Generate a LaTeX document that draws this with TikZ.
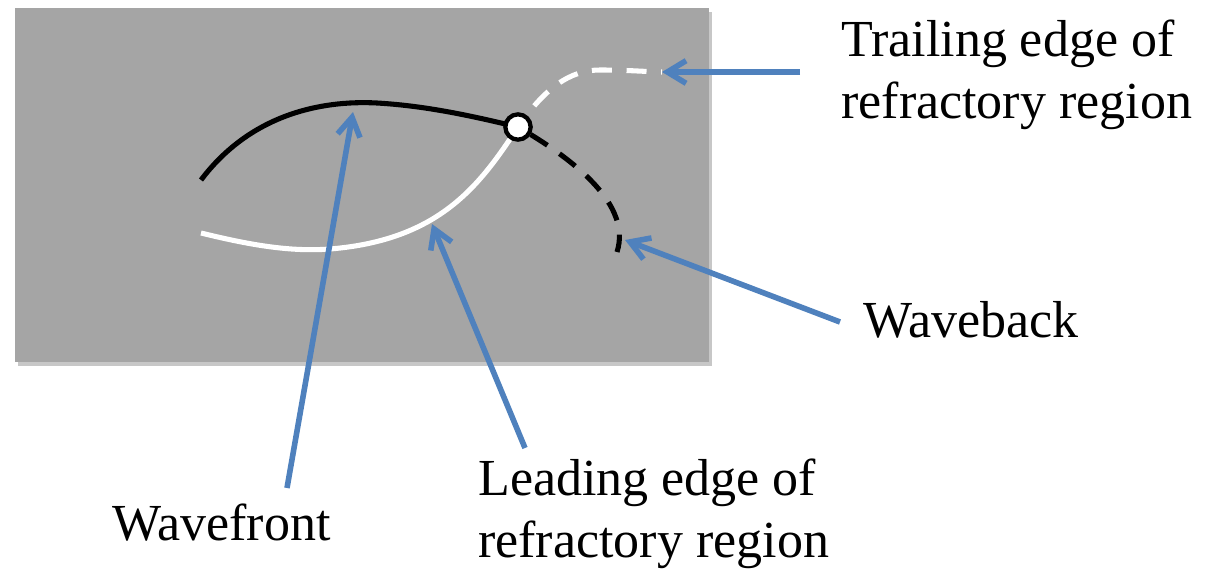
\documentclass[tikz,border=0pt]{standalone}
\usepackage{fontspec}
\setmainfont{Liberation Serif}
\usetikzlibrary{arrows.meta}
\definecolor{pointerblue}{HTML}{4F81BD}
\definecolor{tissue}{HTML}{A5A5A5}

\begin{document}
\begin{tikzpicture}[x=0.75pt,y=-0.75pt,
  caption/.style={anchor=base west,inner sep=0pt,align=left,font=\fontsize{39}{46}\selectfont},
  pointer/.style={draw=pointerblue,line width=4.2pt,-{Straight Barb[length=14pt,width=17pt]}},
  curve/.style={line width=3.8pt},
  broken/.style={curve,dash pattern=on 15pt off 11pt,dash phase=6pt}]
\useasboundingbox (0,0) rectangle (1216,571);
\fill[black!22] (18,12) rectangle (712,366);
\fill[tissue] (15,8) rectangle (709,362);

\draw[curve,black] (201,180) .. controls (250,115) and (320,100) .. (377,103)
  .. controls (430,106) and (480,118) .. (518,127);
\draw[curve,white] (201,233) .. controls (250,245) and (290,252) .. (330,249)
  .. controls (440,240) and (480,185) .. (518,127);
\draw[broken,white] (518,127) .. controls (545,88) and (570,70) .. (600,70)
  .. controls (630,70) and (650,72) .. (662,72);
\draw[broken,black,dash phase=15pt] (518,127) .. controls (575,160) and (632,205) .. (617,252);
\node[circle,draw,fill=white,line width=3.2pt,minimum size=19pt,inner sep=0pt] (junction) at (518,127) {};

\node[caption] (trailing) at (841,118) {Trailing edge of\\refractory region};
\node[caption] (waveback) at (863,337) {Waveback};
\node[caption] (wavefront) at (112,540) {Wavefront};
\node[caption] (leading) at (478,557) {Leading edge of\\refractory region};

\coordinate (trailfrom) at (800,72);
\coordinate (trailto) at (662,72);
\coordinate (backfrom) at (840,322);
\coordinate (backto) at (625,240);
\coordinate (frontfrom) at (287,488);
\coordinate (frontto) at (353,112);
\coordinate (leadfrom) at (525,448);
\coordinate (leadto) at (432,224);

\draw[pointer] (trailfrom) -- (trailto);
\draw[pointer] (backfrom) -- (backto);
\draw[pointer] (frontfrom) -- (frontto);
\draw[pointer] (leadfrom) -- (leadto);
\end{tikzpicture}
\end{document}
